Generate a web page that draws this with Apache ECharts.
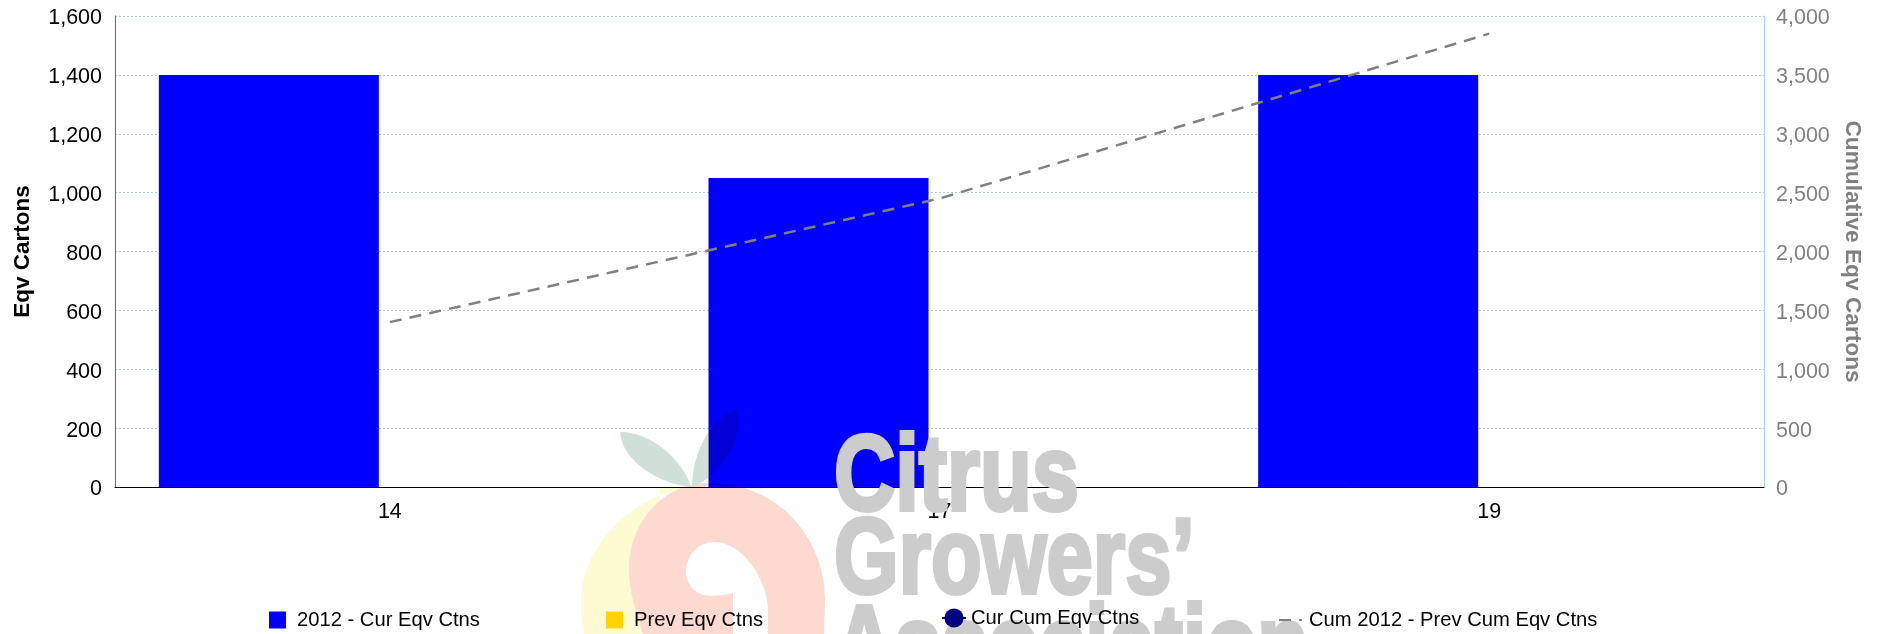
<!DOCTYPE html>
<html>
<head>
<meta charset="utf-8">
<title>Eqv Cartons</title>
<style>
  html, body { margin: 0; padding: 0; background: #fff; }
  #chart { width: 1885px; height: 634px; }
</style>
<script src="https://cdn.jsdelivr.net/npm/echarts@6/dist/echarts.min.js"></script>
</head>
<body>
<div id="chart"></div>
<script>
const weeks = ['14', '17', '19'];
const curEqvCtns = [1400, 1050, 1400];
const prevEqvCtns = [null, null, null];
const curCumEqvCtns = [null, null, null];
const prevCumEqvCtns = [1400, 2450, 3850];

const FONT = '"Liberation Sans", Arial, sans-serif';
const GRID_BLUE = '#a9cbec';

const chart = echarts.init(document.getElementById('chart'));

// legend gaps are uneven in the original, so one legend per item
function legendItem(name, left, top, width, height, textGap, extra) {
    return Object.assign({
        data: [name],
        left: left,
        top: top,
        padding: 0,
        itemWidth: width,
        itemHeight: height,
        itemGap: 0,
        selectedMode: false,
        textStyle: { color: '#000', fontSize: 20.2, fontFamily: FONT, padding: [0, 0, 4, textGap] }
    }, extra);
}

// logo watermark sits over the bars, darken keeps black text black
function logoPath(name, d, fill) {
    echarts.graphic.registerShape(name, echarts.graphic.extendPath(d));
    return { type: name, z: 3, silent: true, style: { fill: fill, blend: 'darken' } };
}

function logoText(text, y, scaleX) {
    return {
        type: 'text', z: 3, silent: true, x: 834, y: y, scaleX: scaleX,
        style: {
            text: text,
            font: 'bold 108px ' + FONT,
            fill: '#cccccc',
            stroke: '#cccccc',
            lineWidth: 4,
            blend: 'darken',
            verticalAlign: 'top'
        }
    };
}

// the original tick labels sit a little below their grid lines
function tickLabel(color, margin) {
    return {
        color: color,
        margin: margin,
        formatter: (v) => '{t|' + v.toLocaleString('en-US') + '}',
        rich: { t: { color: color, fontSize: 21.5, fontFamily: FONT, padding: [5, 0, 0, 0] } }
    };
}

const option = {
    backgroundColor: '#fff',
    animation: false,
    grid: { left: 115, right: 121, top: 16, bottom: 147 },
    legend: [
        legendItem('2012 - Cur Eqv Ctns', 269, 610, 17, 17, 6, { icon: 'rect' }),
        legendItem('Prev Eqv Ctns', 606, 610, 17, 17, 6, { icon: 'rect' }),
        legendItem('Cur Cum Eqv Ctns', 941, 608, 24, 24, 0),
        legendItem('Cum 2012 - Prev Cum Eqv Ctns', 1278, 610, 23, 17, 2, { itemStyle: { opacity: 0 } })
    ],
    xAxis: {
        type: 'category',
        data: weeks,
        axisTick: { show: false },
        axisLine: { lineStyle: { color: '#000', width: 1 } },
        axisLabel: { color: '#000', fontSize: 21.5, fontFamily: FONT, margin: 14 }
    },
    yAxis: [
        {
            type: 'value',
            min: 0,
            max: 1600,
            interval: 200,
            name: 'Eqv Cartons',
            nameLocation: 'middle',
            nameGap: 81,
            nameTextStyle: { color: '#000', fontSize: 22.5, fontWeight: 'bold', fontFamily: FONT },
            axisLine: { show: true, lineStyle: { color: '#666', width: 1 } },
            axisTick: { show: false },
            axisLabel: tickLabel('#000', 13),
            splitLine: { lineStyle: { color: GRID_BLUE, type: [2, 2], width: 1 } }
        },
        {
            type: 'value',
            min: 0,
            max: 4000,
            interval: 500,
            name: 'Cumulative Eqv Cartons',
            nameLocation: 'middle',
            nameRotate: -90,
            nameGap: 76,
            nameTextStyle: { color: '#808080', fontSize: 22.7, fontWeight: 'bold', fontFamily: FONT },
            axisLine: { show: true, lineStyle: { color: '#a6cdf5', width: 1 } },
            axisTick: { show: false },
            axisLabel: tickLabel('#808080', 12),
            splitLine: { show: false }
        }
    ],
    series: [
        {
            name: '2012 - Cur Eqv Ctns',
            type: 'bar',
            data: curEqvCtns,
            barWidth: 220,
            barGap: '10%',
            itemStyle: { color: '#0000ff' }
        },
        {
            name: 'Prev Eqv Ctns',
            type: 'bar',
            data: prevEqvCtns,
            barWidth: 220,
            itemStyle: { color: '#ffd200' }
        },
        {
            name: 'Cur Cum Eqv Ctns',
            type: 'line',
            yAxisIndex: 1,
            data: curCumEqvCtns,
            symbol: 'circle',
            symbolSize: 19,
            itemStyle: { color: '#000080' },
            lineStyle: { color: '#000080', width: 2 }
        },
        {
            name: 'Cum 2012 - Prev Cum Eqv Ctns',
            type: 'line',
            yAxisIndex: 1,
            data: prevCumEqvCtns,
            symbol: 'none',
            z: 4,
            itemStyle: { color: '#808080' },
            lineStyle: { color: '#808080', width: 2.5, type: [12, 8.2] }
        }
    ],
    graphic: {
        elements: [
            logoPath('logoYellow', 'M692 487 C640 493 581 540 581 603 C581 615 582 625 584 634 L660 634 L660 487 Z', '#fdfbd2'),
            logoPath('logoRed', 'M710 483 C660 483 629 525 629 570 C629 592 637 615 643 634 L733 634 L733 593 C725 595 718 596 711 596 C696 596 686 585 686 572 C686 555 698 542 715 542 C742 542 768 580 768 610 L768 634 L824 634 L825 600 C825 535 775 483 710 483 Z', '#fdd9cf'),
            logoPath('logoLeafLeft', 'M620 432 C650 432 682 458 691 487 C660 484 622 462 620 432 Z', '#cfe0d9'),
            logoPath('logoLeafRight', 'M737 409 C712 416 692 452 692 487 C718 478 745 440 737 409 Z', '#cfe0d9'),
            logoText('Citrus', 426, 0.785),
            logoText('Growers\u2019', 509, 0.77),
            logoText('Association', 596, 0.775)
        ]
    }
};

chart.setOption(option);
</script>
</body>
</html>
